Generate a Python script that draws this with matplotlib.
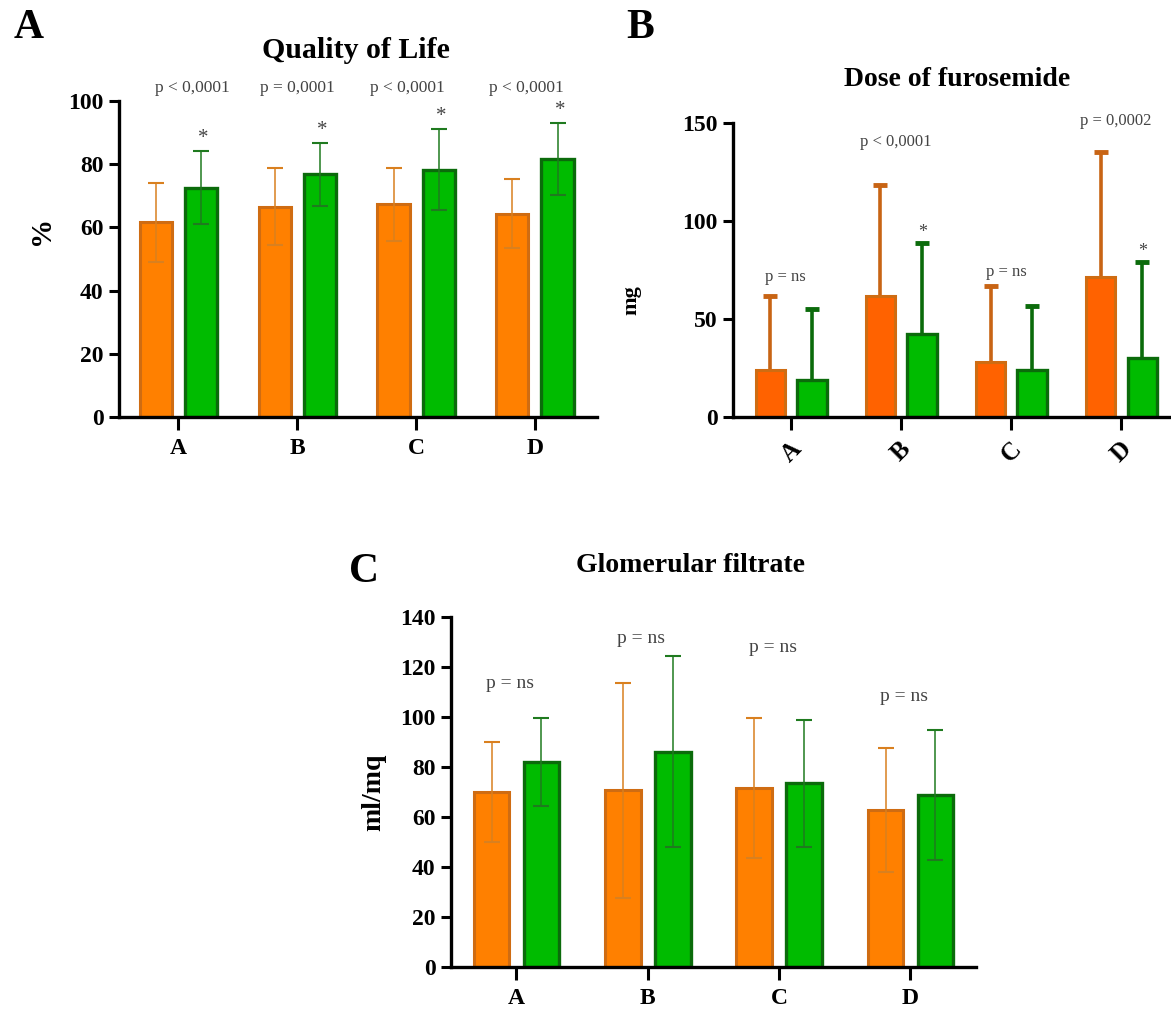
import numpy as np
import matplotlib
matplotlib.use("Agg")
import matplotlib.pyplot as plt

plt.rcParams['font.family'] = ['Liberation Serif', 'DejaVu Serif']

groups = ["A", "B", "C", "D"]

# Quality of Life (%)
qol_pre = [61.6, 66.5, 67.3, 64.4]
qol_pre_sd = [12.5, 12.2, 11.6, 11.0]
qol_post = [72.6, 76.8, 78.3, 81.7]
qol_post_sd = [11.5, 9.9, 12.8, 11.4]
qol_p = ["p < 0,0001", "p = 0,0001", "p < 0,0001", "p < 0,0001"]
qol_p_y = [104.2, 104.2, 104.2, 104.2]

# Dose of furosemide (mg)
furo_pre = [24.2, 61.7, 28.1, 71.6]
furo_pre_sd = [37.5, 56.6, 38.9, 63.6]
furo_post = [18.7, 42.6, 24.2, 30.3]
furo_post_sd = [36.7, 46.5, 32.4, 49.0]
furo_p = ["p = ns", "p < 0,0001", "p = ns", "p = 0,0002"]
furo_p_y = [71.6, 140.6, 74.0, 151.0]
furo_star = [False, True, False, True]

# Glomerular filtrate (ml/mq)
gfr_pre = [69.9, 70.8, 71.7, 62.8]
gfr_pre_sd = [20.0, 43.0, 27.9, 24.8]
gfr_post = [82.1, 86.2, 73.5, 68.8]
gfr_post_sd = [17.7, 38.3, 25.5, 25.9]
gfr_p = ["p = ns", "p = ns", "p = ns", "p = ns"]
gfr_p_y = [113.4, 131.4, 127.8, 108.3]

ORANGE = "#ff8000"
ORANGE_EDGE = "#cf6c12"
ORANGE_B = "#ff6200"
GREEN = "#00bb00"
GREEN_EDGE = "#0b6b0b"
PGRAY = "#444444"

fig = plt.figure(figsize=(11.71, 10.11), dpi=100)


def style_axes(ax, ymax, ystep, rotate=False):
    for s in ["top", "right"]:
        ax.spines[s].set_visible(False)
    for s in ["left", "bottom"]:
        ax.spines[s].set_linewidth(2.4)
    ax.set_ylim(0, ymax)
    ax.set_yticks(np.arange(0, ymax + 1, ystep))
    ax.set_xticks(np.arange(len(groups)))
    ax.set_xticklabels(groups)
    ax.tick_params(axis="y", length=7, width=2.2, labelsize=17, pad=4)
    ax.tick_params(axis="x", length=9, width=2.2, labelsize=17, pad=6)
    for lab in ax.get_yticklabels() + ax.get_xticklabels():
        lab.set_fontweight("bold")
    if rotate:
        for lab in ax.get_xticklabels():
            lab.set_rotation(45)
            lab.set_fontsize(18)


def draw_bars(ax, pre, pre_sd, post, post_sd, ofill, thin=True):
    x = np.arange(len(groups))
    w = 0.27
    off = 0.19
    ax.bar(x - off, pre, w, color=ofill, edgecolor=ORANGE_EDGE, linewidth=2.2, zorder=2)
    ax.bar(x + off, post, w, color=GREEN, edgecolor=GREEN_EDGE, linewidth=2.4, zorder=2)
    if thin:
        ax.errorbar(x - off, pre, yerr=pre_sd, fmt="none", ecolor="#d9801f",
                    elinewidth=1.1, capsize=6, capthick=1.5, zorder=3)
        ax.errorbar(x + off, post, yerr=post_sd, fmt="none", ecolor="#1f7a1f",
                    elinewidth=1.1, capsize=6, capthick=1.5, zorder=3)
    else:
        for xs, ys, sd, col in [(x - off, pre, pre_sd, "#c86414"),
                                (x + off, post, post_sd, "#0b6b0b")]:
            eb = ax.errorbar(xs, ys, yerr=[np.zeros(len(ys)), sd], fmt="none",
                             ecolor=col, elinewidth=2.6, capsize=5, capthick=3.5, zorder=1)
            eb.lines[1][0].set_visible(False)  # hide lower caps
    return x, off


# ---- Panel A ----
axA = fig.add_axes([0.1016, 0.5875, 0.408, 0.3125])
x, off = draw_bars(axA, qol_pre, qol_pre_sd, qol_post, qol_post_sd, ORANGE)
style_axes(axA, 100, 20)
axA.set_xlim(-0.5, 3.52)
fig.text(42 / 1171, 1 - 230 / 1011, "%", fontsize=21, fontweight="bold",
         rotation=90, ha="center", va="center")
fig.text(356 / 1171, 1 - 50 / 1011, "Quality of Life", fontsize=21.5,
         fontweight="bold", ha="center", va="center")
p_dx = [0.12, 0.0, -0.07, -0.07]
for i in range(len(groups)):
    axA.text(x[i] + p_dx[i], qol_p_y[i], qol_p[i], ha="center", va="center",
             fontsize=12.5, color=PGRAY, clip_on=False)
    axA.text(x[i] + off + 0.02, qol_post[i] + qol_post_sd[i] + 4.0, "*", ha="center",
             va="center", fontsize=15, color=PGRAY)
fig.text(0.012, 0.972, "A", fontsize=30, fontweight="bold", va="center")

# ---- Panel B ----
axB = fig.add_axes([0.626, 0.5875, 0.374, 0.2905])
x, off = draw_bars(axB, furo_pre, furo_pre_sd, furo_post, furo_post_sd, ORANGE_B, thin=False)
style_axes(axB, 150, 50, rotate=True)
axB.set_xlim(-0.53, 3.45)
fig.text(631 / 1171, 1 - 300 / 1011, "mg", fontsize=16, fontweight="bold",
         rotation=90, ha="center", va="center")
fig.text(957 / 1171, 1 - 80 / 1011, "Dose of furosemide", fontsize=20,
         fontweight="bold", ha="center", va="center")
for i in range(len(groups)):
    axB.text(x[i] - 0.05, furo_p_y[i], furo_p[i], ha="center", va="center",
             fontsize=12, color=PGRAY, clip_on=False)
    if furo_star[i]:
        axB.text(x[i] + off, furo_post[i] + furo_post_sd[i] + 5, "*", ha="center",
                 va="center", fontsize=13, color=PGRAY)
fig.text(0.535, 0.972, "B", fontsize=30, fontweight="bold", va="center")

# ---- Panel C ----
axC = fig.add_axes([0.385, 0.0435, 0.4486, 0.3462])
x, off = draw_bars(axC, gfr_pre, gfr_pre_sd, gfr_post, gfr_post_sd, ORANGE)
style_axes(axC, 140, 20)
axC.set_xlim(-0.5, 3.5)
axC.set_ylabel("ml/mq", fontsize=20, fontweight="bold", labelpad=10)
fig.text(0.59, 0.441, "Glomerular filtrate", fontsize=20, fontweight="bold",
         ha="center", va="center")
for i in range(len(groups)):
    axC.text(x[i] - 0.05, gfr_p_y[i], gfr_p[i], ha="center", va="center",
             fontsize=14, color=PGRAY)
fig.text(0.298, 0.434, "C", fontsize=30, fontweight="bold", va="center")

fig.savefig("out.png", dpi=100)
